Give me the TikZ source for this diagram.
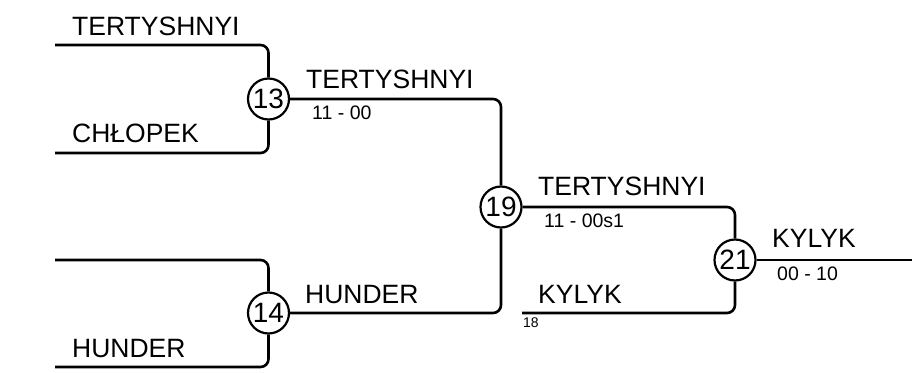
\documentclass[tikz,border=0pt]{standalone}
\usepackage{fontspec}
\setmainfont{Liberation Sans}
\begin{document}
\begin{tikzpicture}[x=1pt,y=-1pt,
  wire/.style={line width=2.6pt,rounded corners=8pt},
  matchc/.style={circle,draw,line width=2.2pt,minimum size=41pt,inner sep=0pt,font=\fontsize{28}{28}\selectfont},
  pname/.style={anchor=base west,inner sep=0pt,font=\fontsize{26.5}{28}\selectfont},
  pscore/.style={anchor=base west,inner sep=0pt,font=\fontsize{19.5}{20}\selectfont},
  pseed/.style={anchor=base west,inner sep=0pt,font=\fontsize{14}{16}\selectfont}]
\useasboundingbox (0,0) rectangle (912,372);
% match circles
\node[matchc] (c13) at (268.5,99) {13};
\node[matchc] (c14) at (268.5,313) {14};
\node[matchc] (c19) at (501,207) {19};
\node[matchc] (c21) at (735,260) {21};
% free ends
\coordinate (a1) at (55,45);
\coordinate (a2) at (55,153);
\coordinate (b1) at (55,260);
\coordinate (b2) at (55,367);
\coordinate (k) at (522,313);
\coordinate (e) at (912,260);
% connectors
\draw[wire] (a1) -| (c13);
\draw[wire] (a2) -| (c13);
\draw[wire] (b1) -| (c14);
\draw[wire] (b2) -| (c14);
\draw[wire] (c13) -| (c19);
\draw[wire] (c14) -| (c19);
\draw[wire] (c19) -| (c21);
\draw[wire] (k) -| (c21);
\draw[wire] (c21) -- (e);
% labels
\node[pname] (t1) at (72,35) {TERTYSHNYI};
\node[pname] (t2) at (72,142) {CHŁOPEK};
\node[pname] (t3) at (72,357) {HUNDER};
\node[pname] (t4) at (306,88) {TERTYSHNYI};
\node[pscore] (s4) at (312,119) {11 - 00};
\node[pname] (t5) at (305,303) {HUNDER};
\node[pname] (t6) at (538,195) {TERTYSHNYI};
\node[pscore] (s6) at (544,227) {11 - 00s1};
\node[pname] (t7) at (538,303) {KYLYK};
\node[pseed] (s7) at (523,327) {18};
\node[pname] (t8) at (772,247) {KYLYK};
\node[pscore] (s8) at (777,280) {00 - 10};
\end{tikzpicture}
\end{document}
